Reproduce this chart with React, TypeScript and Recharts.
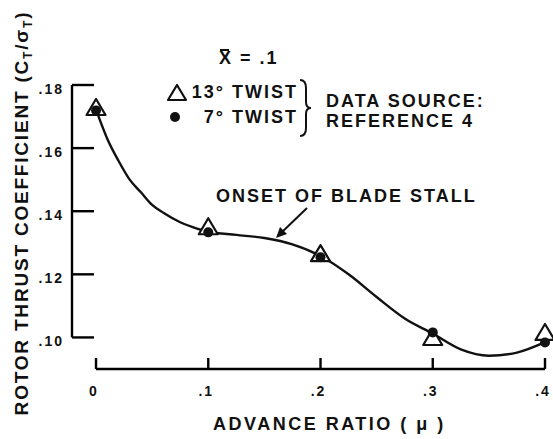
import { ComposedChart, Line, XAxis, YAxis, Customized } from "recharts";

// measured points, advance ratio (mu) vs Ct/sigma
const muPoints = [0, 0.1, 0.2, 0.3, 0.4];
const twist13 = [0.1724, 0.1346, 0.1261, 0.0995, 0.1011];
const twist7 = [0.1719, 0.1333, 0.1254, 0.1016, 0.0984];

// faired curve
const curveMu = [0, 0.01, 0.02, 0.03, 0.04, 0.05, 0.06, 0.075, 0.09, 0.1, 0.125, 0.15, 0.175, 0.2, 0.225, 0.25, 0.275, 0.3, 0.325, 0.35, 0.375, 0.4];
const curveCt = [0.1722, 0.163, 0.156, 0.15, 0.146, 0.142, 0.1395, 0.1365, 0.1345, 0.1335, 0.1325, 0.1315, 0.1295, 0.1258, 0.12, 0.1128, 0.106, 0.1012, 0.0962, 0.0942, 0.0952, 0.0985];

const xTicks = [0, 0.1, 0.2, 0.3, 0.4];
const yTicks = [0.1, 0.12, 0.14, 0.16, 0.18];

const tri13 = muPoints.map((x, i) => ({ x, y: twist13[i] }));
const dot7 = muPoints.map((x, i) => ({ x, y: twist7[i] }));
const curve = curveMu.map((x, i) => ({ x, y: curveCt[i] }));

const FONT = "'Liberation Sans', Arial, Helvetica, sans-serif";
const INK = "#111";

// chart geometry
const W = 553;
const H = 439;
const M = { top: 85, right: 8, bottom: 0, left: 0 };
const Y_W = 72;
const X_H = 70;
const X_DOM = [-0.0214, 0.4];
const Y_DOM = [0.09, 0.18];

// same linear mapping as the chart's axes, for the range-frame decoration
const plotL = M.left + Y_W;
const plotR = W - M.right;
const plotT = M.top;
const plotB = H - M.bottom - X_H;
const sx = (v: number) => plotL + ((v - X_DOM[0]) * (plotR - plotL)) / (X_DOM[1] - X_DOM[0]);
const sy = (v: number) => plotB - ((v - Y_DOM[0]) * (plotB - plotT)) / (Y_DOM[1] - Y_DOM[0]);

const txt = {
  fontFamily: FONT,
  fontWeight: "bold" as const,
  fill: INK,
  fontSize: 18,
  letterSpacing: 2,
};

const Triangle = (props: any) => {
  const { cx, cy } = props;
  if (cx == null || cy == null) return null;
  return (
    <polygon
      points={`${cx},${cy - 10} ${cx - 9.5},${cy + 6} ${cx + 9.5},${cy + 6}`}
      fill="#fff"
      stroke={INK}
      strokeWidth={2.2}
      strokeLinejoin="round"
    />
  );
};

const Dot = (props: any) => {
  const { cx, cy } = props;
  if (cx == null || cy == null) return null;
  return <circle cx={cx} cy={cy} r={5} fill={INK} />;
};

const YTick = (props: any) => {
  const { x, y, payload } = props;
  const label = "." + Math.round(payload.value * 100);
  return (
    <text x={x - 8} y={y + 9} textAnchor="end" style={{ ...txt, fontSize: 14 }}>
      {label}
    </text>
  );
};

const XTick = (props: any) => {
  const { x, y, payload } = props;
  const label = payload.value === 0 ? "0" : "." + Math.round(payload.value * 10);
  return (
    <text x={x - 2} y={y + 27} textAnchor="middle" style={{ ...txt, fontSize: 14 }}>
      {label}
    </text>
  );
};

const Frame = () => (
  <g stroke="#000" strokeWidth={2.4} fill="none">
    <path d={`M${plotL} ${sy(0.1)}V${sy(0.18)}`} />
    {yTicks.map((v) => (
      <path key={"y" + v} d={`M${plotL} ${sy(v)}H${plotL + 22}`} />
    ))}
    <path d={`M${sx(0)} ${plotB}H${sx(0.4)}`} />
    {xTicks.map((v) => (
      <path key={"x" + v} d={`M${sx(v)} ${plotB}V${plotB - 11}`} />
    ))}
  </g>
);

const Notes = () => (
  <g>
    <Frame />

    <line x1={220} y1={50} x2={229} y2={50} stroke={INK} strokeWidth={2} />
    <text x={219} y={64} style={txt}>X = .1</text>

    <polygon points="177,85 168,100 186,100" fill="#fff" stroke={INK} strokeWidth={2.2} strokeLinejoin="round" />
    <text x={298} y={98} textAnchor="end" style={txt}>13° TWIST</text>
    <circle cx={175} cy={117} r={5} fill={INK} />
    <text x={298} y={123} textAnchor="end" style={txt}>7° TWIST</text>

    <path
      d="M300 80 Q306 80 306 88 L306 102 Q306 108 311 108 Q306 108 306 114 L306 128 Q306 136 300 136"
      fill="none"
      stroke={INK}
      strokeWidth={2}
    />
    <text x={326} y={107} style={txt}>DATA SOURCE:</text>
    <text x={326} y={127} style={txt}>REFERENCE 4</text>

    <text x={216} y={202} style={txt}>ONSET OF BLADE STALL</text>
    <line x1={307} y1={208} x2={281} y2={233} stroke={INK} strokeWidth={2} />
    <polygon points="276,238 280,227 287,234" fill={INK} />

    <text x={213} y={430} style={{ ...txt, letterSpacing: 2.5 }}>ADVANCE RATIO ( μ )</text>
    <text
      x={28}
      y={213}
      textAnchor="middle"
      transform="rotate(-90, 28, 213)"
      style={{ ...txt, fontSize: 19, letterSpacing: 1.8 }}
    >
      ROTOR THRUST COEFFICIENT (C
      <tspan fontSize={12} dy={4}>T</tspan>
      <tspan dy={-4}>/σ</tspan>
      <tspan fontSize={12} dy={4}>T</tspan>
      <tspan dy={-4}>)</tspan>
    </text>
  </g>
);

export default function App() {
  return (
    <div style={{ position: "absolute", left: 0, top: 0, width: W, height: H, background: "#fff" }}>
      <ComposedChart width={W} height={H} margin={M}>
        <XAxis
          dataKey="x"
          type="number"
          domain={X_DOM}
          ticks={xTicks}
          axisLine={false}
          tickLine={false}
          tickSize={0}
          tickMargin={0}
          height={X_H}
          tick={(p: any) => <XTick {...p} />}
          interval={0}
        />
        <YAxis
          type="number"
          domain={Y_DOM}
          ticks={yTicks}
          axisLine={false}
          tickLine={false}
          tickSize={0}
          tickMargin={0}
          width={Y_W}
          tick={(p: any) => <YTick {...p} />}
          interval={0}
        />
        <Line
          data={curve}
          dataKey="y"
          type="monotone"
          stroke={INK}
          strokeWidth={2.4}
          dot={false}
          activeDot={false}
          isAnimationActive={false}
        />
        <Line data={tri13} dataKey="y" stroke="none" dot={<Triangle />} activeDot={false} isAnimationActive={false} />
        <Line data={dot7} dataKey="y" stroke="none" dot={<Dot />} activeDot={false} isAnimationActive={false} />
        <Customized component={<Notes />} />
      </ComposedChart>
    </div>
  );
}
